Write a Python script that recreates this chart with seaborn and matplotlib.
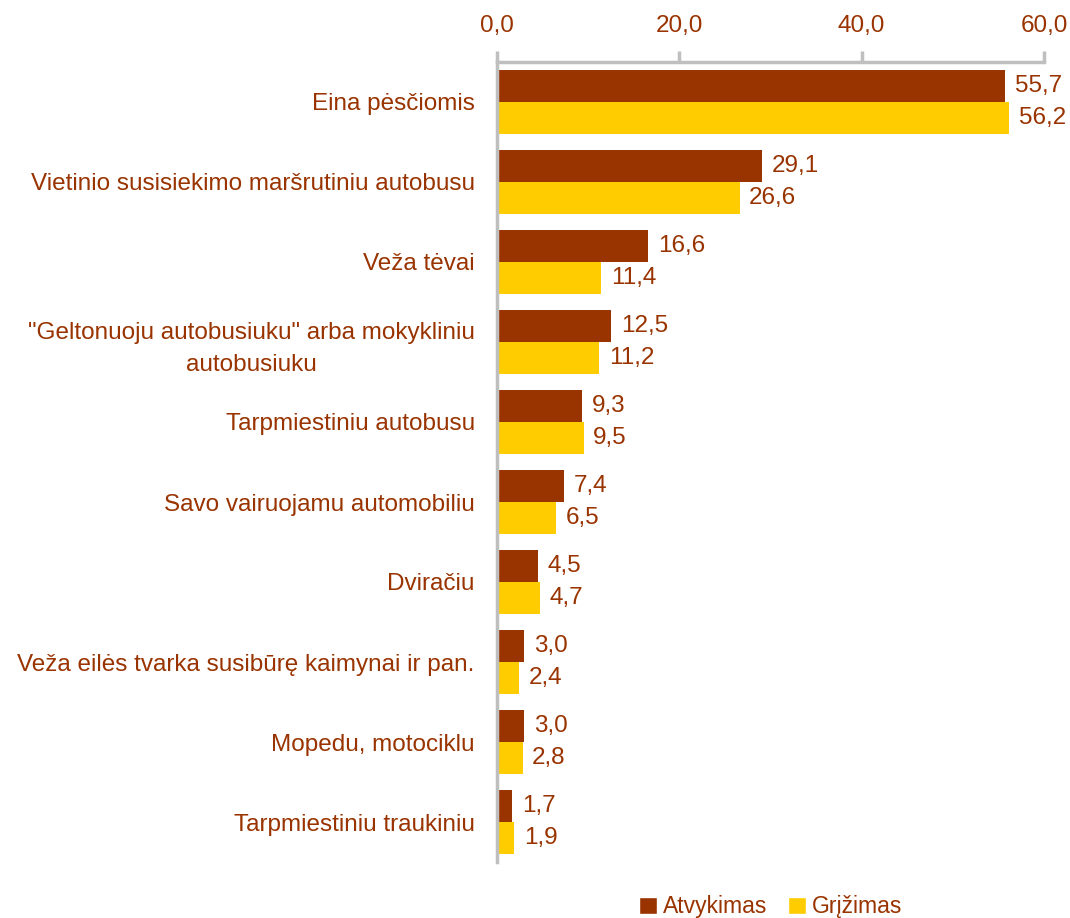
import matplotlib
matplotlib.use("Agg")
import matplotlib.pyplot as plt
import seaborn as sns
import pandas as pd
import numpy as np
from matplotlib.patches import Patch

categories = [
    "Eina pėsčiomis",
    "Vietinio susisiekimo maršrutiniu autobusu",
    "Veža tėvai",
    "\"Geltonuoju autobusiuku\" arba mokykliniu\nautobusiuku",
    "Tarpmiestiniu autobusu",
    "Savo vairuojamu automobiliu",
    "Dviračiu",
    "Veža eilės tvarka susibūrę kaimynai ir pan.",
    "Mopedu, motociklu",
    "Tarpmiestiniu traukiniu",
]
atvykimas = [55.7, 29.1, 16.6, 12.5, 9.3, 7.4, 4.5, 3.0, 3.0, 1.7]
grizimas = [56.2, 26.6, 11.4, 11.2, 9.5, 6.5, 4.7, 2.4, 2.8, 1.9]
series = ["Atvykimas", "Grįžimas"]
x_ticks = [0, 20, 40, 60]

BROWN = "#993300"
YELLOW = "#FFCC00"
GRAY = "#BFBFBF"
FS = 17.5

sns.set_style("white")
plt.rcParams["font.family"] = ["Liberation Sans", "DejaVu Sans"]

df = pd.DataFrame({
    "kategorija": categories * 2,
    "reiksme": atvykimas + grizimas,
    "serija": [series[0]] * len(categories) + [series[1]] * len(categories),
})

fig = plt.figure(figsize=(10.7, 9.18), dpi=100)
ax = fig.add_axes([497 / 1070, 1 - 862 / 918, (1044 - 497) / 1070, 800 / 918])

sns.barplot(
    data=df, x="reiksme", y="kategorija", hue="serija", orient="h",
    palette=[BROWN, YELLOW], width=0.8, gap=0, ax=ax, legend=False,
    saturation=1, linewidth=0,
)

# value labels
for container in ax.containers:
    labels = [f"{v:.1f}".replace(".", ",") for v in container.datavalues]
    ax.bar_label(container, labels=labels, padding=7, fontsize=FS, color=BROWN)

ax.set_xlim(0, 60)
ax.set_ylim(len(categories) - 0.5, -0.5)
ax.set_xticks(x_ticks)
ax.set_xticklabels([f"{t:.1f}".replace(".", ",") for t in x_ticks])
ax.xaxis.tick_top()
ax.set_xlabel("")
ax.set_ylabel("")

for side in ["right", "bottom"]:
    ax.spines[side].set_visible(False)
for side in ["left", "top"]:
    ax.spines[side].set_color(GRAY)
    ax.spines[side].set_linewidth(2.5)

ax.tick_params(axis="x", which="major", direction="out", length=8, width=2.5,
               color=GRAY, labelcolor=BROWN, labelsize=FS, pad=10)
ax.tick_params(axis="y", which="major", length=0, labelcolor=BROWN,
               labelsize=FS, pad=16)
ax.set_yticks(np.arange(-0.5, len(categories), 1), minor=True)
ax.tick_params(axis="y", which="minor", direction="out", length=8, width=2.5,
               color=GRAY)
for lab in ax.get_yticklabels():
    lab.set_multialignment("center")
    lab.set_linespacing(1.55)

handles = [Patch(facecolor=BROWN), Patch(facecolor=YELLOW)]
fig.legend(handles, series, loc="center", bbox_to_anchor=(0.72, 0.012),
           ncol=2, frameon=False, fontsize=16.5, labelcolor=BROWN,
           handlelength=0.8, handleheight=0.8, handletextpad=0.25,
           columnspacing=0.9)

fig.savefig("out.png", dpi=100)
